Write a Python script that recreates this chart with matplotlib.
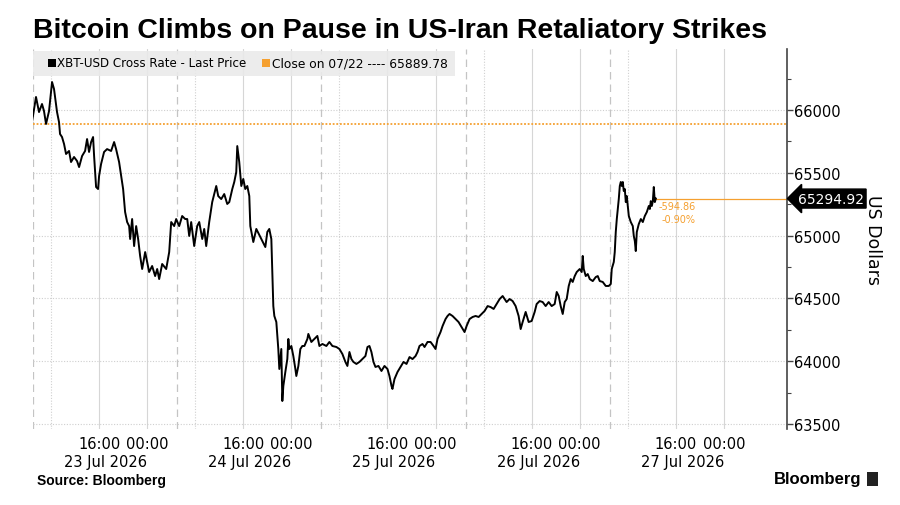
import matplotlib
matplotlib.use('Agg')
import matplotlib.pyplot as plt
from matplotlib.patches import Rectangle
from matplotlib.ticker import MultipleLocator

# hours relative to 23 Jul 2026 00:00
hours = [-19.17, -18.83, -18.5, -18.0, -17.5, -17.17, -16.83, -16.33, -15.83, -15.5,
         -15.0, -14.67, -14.5, -14.17, -13.83, -13.5, -13.0, -12.67, -12.17, -11.67,
         -11.33, -10.83, -10.33, -10.0, -9.67, -9.33, -9.0, -8.83, -8.5, -8.17,
         -8.0, -7.67, -7.17, -6.67, -6.0, -5.5, -5.17, -4.67, -4.33, -4.0,
         -3.67, -3.33, -3.0, -2.83, -2.5, -2.17, -1.83, -1.5, -1.17, -0.83,
         -0.33, 0.0, 0.33, 0.83, 1.33, 1.67, 2.0, 2.5, 3.17, 3.67,
         4.0, 4.5, 4.83, 5.33, 5.83, 6.33, 6.67, 7.0, 7.33, 7.83,
         8.33, 8.67, 9.17, 9.5, 9.83, 10.33, 10.83, 11.17, 11.5, 11.83,
         12.33, 12.83, 13.33, 13.67, 14.17, 14.5, 14.83, 15.0, 15.33, 15.67,
         16.0, 16.33, 16.67, 17.0,
         17.17, 17.67, 18.17, 19.0, 19.67, 20.0, 20.33, 20.67, 20.83, 21.0,
         21.17, 21.5, 21.83, 22.0, 22.33, 22.5, 22.67, 23.0, 23.33, 23.5,
         23.67, 24.0, 24.33, 24.67, 24.83, 25.17, 25.5, 25.83, 26.17, 26.67,
         26.83, 27.33, 27.83, 28.33, 28.67, 29.17, 29.83, 30.33, 30.83, 31.5,
         32.0, 32.5, 33.0, 33.33, 33.67, 34.0, 34.33, 34.83, 35.33, 35.83,
         36.33, 36.67, 37.0, 37.33, 37.67, 38.0, 38.5, 39.0, 39.5, 40.0,
         40.33, 40.67, 40.83, 41.17, 41.67, 42.17, 42.67, 43.17, 43.67, 44.17,
         44.67, 45.0, 45.33, 45.83, 46.17, 46.67, 47.17, 47.67, 48.0, 48.33,
         48.83, 49.17, 49.67, 50.0, 50.33, 50.83, 51.33, 51.83, 52.33, 52.83,
         53.17, 53.67, 54.17, 54.67, 55.17, 55.67, 56.17, 56.67, 57.17, 57.67,
         58.17, 58.67, 59.17, 59.83, 60.33, 60.83, 61.33, 61.83, 62.17, 62.5,
         63.0, 63.5, 64.0, 64.5, 64.83, 65.33, 65.83, 66.33, 66.83, 67.33,
         67.83, 68.17, 68.5, 68.83, 69.17, 69.5, 69.83, 70.17, 70.5, 70.83,
         71.17, 71.5, 72.0, 72.33, 72.5, 72.67, 73.0, 73.33, 73.67, 74.17,
         74.67, 75.0, 75.33, 75.83, 76.33, 76.83, 77.17, 77.33, 77.67, 77.83,
         78.0, 78.17, 78.5, 78.67, 78.83, 79.0, 79.17, 79.33, 79.5, 79.67,
         79.83, 80.17, 80.5, 80.83, 81.0, 81.17, 81.33, 81.5, 81.83, 82.17,
         82.5, 82.83, 83.17, 83.5, 83.67, 83.83, 84.0, 84.17, 84.33, 84.5,
         84.67]

price = [65904, 66008, 66104, 65984, 66048, 65992, 65889, 65992, 66223, 66167,
         65984, 65904, 65809, 65785, 65729, 65650, 65674, 65586, 65626, 65594,
         65546, 65634, 65674, 65769, 65666, 65745, 65785, 65634, 65387, 65371,
         65475, 65570, 65666, 65689, 65674, 65745, 65689, 65586, 65475, 65371,
         65188, 65108, 65076, 64973, 65132, 64917, 65076, 64973, 64838, 64734,
         64869, 64790, 64710, 64758, 64678, 64734, 64654, 64774, 64734, 64869,
         65108, 65076, 65132, 65076, 65156, 65132, 65132, 64997, 65108, 64917,
         65076, 65108, 64973, 65053, 64917, 65108, 65267, 65331, 65395, 65315,
         65291, 65331, 65252, 65267, 65371, 65427, 65506, 65713, 65586, 65395,
         65451, 65371, 65395, 65315,
         65076, 64949, 65053, 64973, 64909, 65029, 65053, 64973, 64710, 64439,
         64360, 64312, 64097, 63938, 64097, 63683, 63803, 63914, 64017, 64177,
         64097, 64121, 64041, 63938, 63882, 63962, 64097, 64121, 64121, 64177,
         64217, 64153, 64177, 64201, 64121, 64137, 64121, 64153, 64121, 64113,
         64097, 64057, 63994, 63962, 64073, 64017, 63994, 63978, 63994, 64017,
         64041, 64113, 64121, 64073, 63994, 63954, 63962, 63922, 63962, 63938,
         63882, 63803, 63779, 63858, 63914, 63954, 63994, 63978, 64033, 64017,
         64041, 64073, 64121, 64137, 64113, 64153, 64153, 64121, 64097, 64177,
         64232, 64280, 64336, 64360, 64376, 64360, 64336, 64312, 64272, 64232,
         64280, 64336, 64352, 64360, 64352, 64376, 64400, 64439, 64431, 64416,
         64455, 64495, 64519, 64471, 64495, 64479, 64439, 64360, 64256, 64312,
         64392, 64312, 64320, 64392, 64455, 64479, 64471, 64439, 64471, 64439,
         64455, 64551, 64519, 64439, 64376, 64471, 64495, 64599, 64654, 64631,
         64678, 64710, 64734, 64710, 64838, 64734, 64678, 64694, 64654, 64638,
         64670, 64678, 64638, 64631, 64599, 64599, 64615, 64734, 64790, 64869,
         65029, 65132, 65291, 65395, 65427, 65395, 65427, 65355, 65371, 65267,
         65315, 65156, 65108, 65076, 64997, 64957, 64877, 65029, 65092, 65132,
         65108, 65156, 65188, 65236, 65212, 65275, 65236, 65275, 65387, 65267,
         65294.92]

close_prev = 65889.78
time_ticks = [-8, 0, 16, 24, 40, 48, 64, 72, 88, 96]
time_labels = ['16:00', '00:00'] * 5
day_starts = [0, 24, 48, 72, 96]
date_labels = ['23 Jul 2026', '24 Jul 2026', '25 Jul 2026', '26 Jul 2026', '27 Jul 2026']
y_ticks = [63500, 64000, 64500, 65000, 65500, 66000]

assert len(hours) == len(price)

orange = '#f5a030'

fig = plt.figure(figsize=(9, 5.06), dpi=100)
ax = fig.add_axes([33/900, 1-430/506, (787-33)/900, (430-50)/506])
ax.set_xlim(-19.0, 106.5)
ax.set_ylim(63460, 66486)

# grid
for d in day_starts:
    ax.axvline(d, color='#d6d6d6', lw=0.8, zorder=0)
    ax.axvline(d - 8, color='#d6d6d6', lw=0.8, zorder=0)
    ax.axvline(d - 16, color='#d0d0d0', lw=0.8, ls=(0, (1, 1.5)), zorder=0)
    ax.axvline(d - 19, color='#c4c4c4', lw=0.9, ls=(0, (6, 4)), zorder=0)
for y in y_ticks:
    ax.axhline(y, color='#cfcfcf', lw=0.8, ls=(0, (1, 1.5)), zorder=0)

ax.axhline(close_prev, color=orange, lw=1.3, ls=(0, (1, 1)), zorder=2)
ax.plot(hours, price, color='black', lw=1.4, zorder=3)

last_h = hours[-1]
last = price[-1]
ax.plot([last_h, 106.5], [last, last], color=orange, lw=0.9, zorder=2, clip_on=False)
chg = last - close_prev
pct = chg / close_prev * 100
ax.annotate('%.2f' % chg, (last_h, last), xytext=(2, -2), textcoords='offset points',
            fontsize=7, color=orange, va='top', ha='left')
ax.annotate('%.2f%%' % pct, (last_h, last), xytext=(4, -11), textcoords='offset points',
            fontsize=7, color=orange, va='top', ha='left')

ax.text(1.014, last, '%.2f' % last, transform=ax.get_yaxis_transform(),
        ha='left', va='center', color='white', fontsize=10,
        bbox=dict(boxstyle='larrow,pad=0.18', fc='black', ec='black'))

# axes styling
for s in ['top', 'left', 'bottom']:
    ax.spines[s].set_visible(False)
ax.spines['right'].set_color('#444444')
ax.spines['right'].set_linewidth(1.2)
ax.yaxis.tick_right()
ax.set_yticks(y_ticks)
ax.yaxis.set_minor_locator(MultipleLocator(250))
ax.tick_params(axis='y', which='major', length=4, width=1, color='#444444',
               labelsize=10.5, pad=1)
ax.tick_params(axis='y', which='minor', length=3, width=0.8, color='#444444')
ax.set_xticks(time_ticks)
ax.set_xticklabels(time_labels)
ax.tick_params(axis='x', length=0, labelsize=10.5, pad=5)
for d, lab in zip(day_starts, date_labels):
    ax.text(d, -0.066, lab, transform=ax.get_xaxis_transform(), ha='right', va='top',
            fontsize=10.5)

fig.text(873/900, 1-240/506, 'US Dollars', rotation=270, ha='center', va='center', fontsize=12.5)

# legend strip
fig.patches.append(Rectangle((33/900, 1-77/506), 422/900, 25/506, transform=fig.transFigure,
                             fc='#eaeaea', ec='none', alpha=0.9, zorder=5))
fig.patches.append(Rectangle((48/900, 1-68/506), 8/900, 8/506, transform=fig.transFigure,
                             fc='black', ec='none', zorder=6))
fig.patches.append(Rectangle((262/900, 1-68/506), 8/900, 8/506, transform=fig.transFigure,
                             fc=orange, ec='none', zorder=6))
fig.text(57/900, 1-64/506, 'XBT-USD Cross Rate - Last Price', fontsize=8.6, va='center', zorder=7)
fig.text(272/900, 1-64/506, 'Close on 07/22 ---- 65889.78', fontsize=8.8, va='center', zorder=7)

fig.text(33/900, 1-31/506, 'Bitcoin Climbs on Pause in US-Iran Retaliatory Strikes',
         fontsize=20.5, fontweight='bold', va='center', family='Liberation Sans')
fig.text(37/900, 1-481/506, 'Source: Bloomberg', fontsize=10, fontweight='bold', va='center',
         family='Liberation Sans')
fig.text(861/900, 1-480/506, 'Bloomberg', fontsize=12, fontweight='bold', va='center',
         ha='right', family='Liberation Sans')
fig.patches.append(Rectangle((867/900, 1-487/506), 11/900, 14/506, transform=fig.transFigure,
                             fc='#222222', ec='none'))

fig.savefig('out.png', dpi=100)
